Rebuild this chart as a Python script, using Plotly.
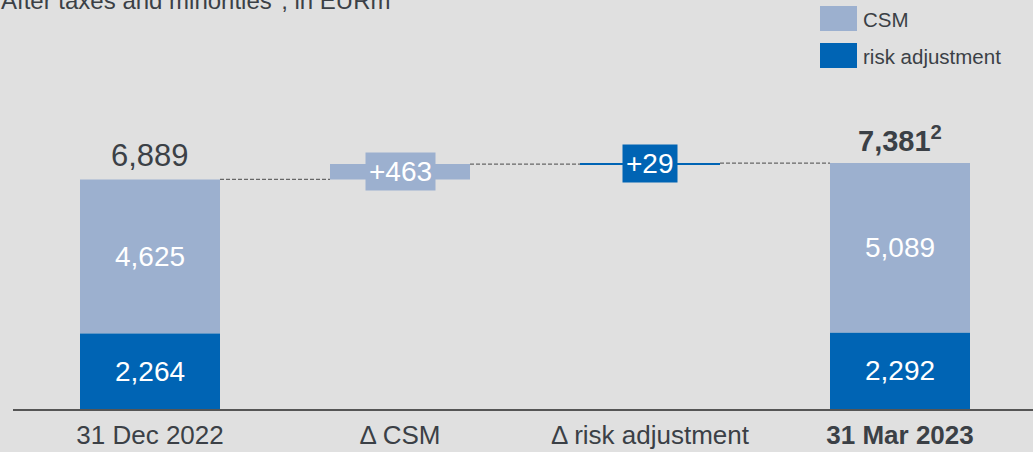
import plotly.graph_objects as go

categories = ["31 Dec 2022", "Δ CSM", "Δ risk adjustment", "31 Mar 2023"]
csm_start = 4625
ra_start = 2264
delta_csm = 463
delta_ra = 29
csm_end = 5089
ra_end = 2292
total_start = 6889
total_end = 7381

CSM_COL = "#9cb0cf"
RA_COL = "#0064b4"
BG = "#e0e0e0"
TXT = "#3b4046"
FONT = "Liberation Sans, Arial, sans-serif"
W = 0.56

W_PX, H_PX = 1033, 452
ML, MR, MT, MB = 13, 0, 0, 43
PW = W_PX - ML - MR
PH = H_PX - MT - MB

def px(xp):
    return (xp - ML) / PW

def py(yp):
    return (H_PX - MB - yp) / PH

x_idx = list(range(len(categories)))
ra_mid_base = total_start + delta_csm

fig = go.Figure()
fig.add_trace(go.Bar(
    x=[x_idx[0], x_idx[1], x_idx[3]],
    y=[csm_start, delta_csm, csm_end],
    base=[ra_start, total_start, ra_end],
    width=W, marker=dict(color=CSM_COL, line=dict(width=0)),
    name="CSM", showlegend=False, hoverinfo="skip"))
fig.add_trace(go.Bar(
    x=[x_idx[0], x_idx[2], x_idx[3]],
    y=[ra_start, delta_ra, ra_end],
    base=[0, ra_mid_base, 0],
    width=W, marker=dict(color=RA_COL, line=dict(width=0)),
    name="risk adjustment", showlegend=False, hoverinfo="skip"))

# thin line for the tiny risk adjustment delta
fig.add_trace(go.Scatter(
    x=[x_idx[2] - W / 2, x_idx[2] + W / 2],
    y=[ra_mid_base + delta_ra / 2, ra_mid_base + delta_ra / 2],
    mode="lines", line=dict(color=RA_COL, width=1),
    showlegend=False, hoverinfo="skip"))

# dashed connectors
conn = [
    (x_idx[0] + W / 2, x_idx[1] - W / 2, total_start),
    (x_idx[1] + W / 2, x_idx[2] - W / 2, total_start + delta_csm),
    (x_idx[2] + W / 2, x_idx[3] - W / 2, total_end),
]
for x0, x1, yv in conn:
    fig.add_trace(go.Scatter(
        x=[x0, x1], y=[yv, yv], mode="lines",
        line=dict(color="#666666", width=1.2, dash="4px,2px"),
        showlegend=False, hoverinfo="skip"))

ann = []
# segment labels
for xi, base, val in [(0, 0, ra_start), (0, ra_start, csm_start),
                      (3, 0, ra_end), (3, ra_end, csm_end)]:
    ann.append(dict(x=xi, y=base + val / 2, text=f"{val:,}", showarrow=False,
                    font=dict(color="white", size=28, family=FONT)))
# delta labels with boxes
ann.append(dict(x=1, y=total_start + delta_csm / 2, text=f"+{delta_csm}",
                showarrow=False, bgcolor=CSM_COL, borderpad=3,
                font=dict(color="white", size=28, family=FONT)))
ann.append(dict(x=2, y=ra_mid_base + delta_ra / 2, text=f"+{delta_ra}",
                showarrow=False, bgcolor=RA_COL, borderpad=3,
                font=dict(color="white", size=28, family=FONT)))
# totals
ann.append(dict(x=0, y=total_start, text=f"{total_start:,}", showarrow=False,
                yanchor="bottom", yshift=4,
                font=dict(color=TXT, size=31, family=FONT)))
ann.append(dict(x=3, y=total_end, text=f"<b>{total_end:,}<sup>2</sup></b>",
                showarrow=False, yanchor="bottom", yshift=4,
                font=dict(color=TXT, size=29, family=FONT)))
# title (cut off at the top, as in the original)
ann.append(dict(xref="paper", yref="paper", x=px(-1), y=py(-1), xanchor="left",
                yanchor="middle", text="After taxes and minorities<sup>1</sup>, in EURm",
                showarrow=False, font=dict(color=TXT, size=24, family=FONT)))
# legend
legend_items = [("CSM", CSM_COL, 6), ("risk adjustment", RA_COL, 43)]
shapes = []
for label, col, top in legend_items:
    shapes.append(dict(type="rect", xref="paper", yref="paper",
                       x0=px(820), x1=px(857), y0=py(top + 25), y1=py(top),
                       fillcolor=col, line=dict(width=0)))
    ann.append(dict(xref="paper", yref="paper", x=px(861), y=py(top + 13.5),
                    xanchor="left", yanchor="middle", text=label, showarrow=False,
                    font=dict(color=TXT, size=20.5, family=FONT)))

ticktext = categories[:3] + [f"<b>{categories[3]}</b>"]

fig.update_layout(
    width=W_PX, height=H_PX,
    margin=dict(l=ML, r=MR, t=MT, b=MB, pad=0),
    paper_bgcolor=BG, plot_bgcolor=BG,
    barmode="overlay",
    annotations=ann, shapes=shapes,
    xaxis=dict(range=[-0.548, 3.532], tickvals=x_idx, ticktext=ticktext,
               showgrid=False, zeroline=False, showline=True,
               linecolor="#555555", linewidth=2, ticks="",
               ticklabelstandoff=2,
               tickfont=dict(size=26, color=TXT, family=FONT), fixedrange=True),
    yaxis=dict(range=[0, 12275], visible=False, showgrid=False, zeroline=False,
               fixedrange=True),
    showlegend=False,
)
fig.write_html("out.html", config={"displayModeBar": False})
